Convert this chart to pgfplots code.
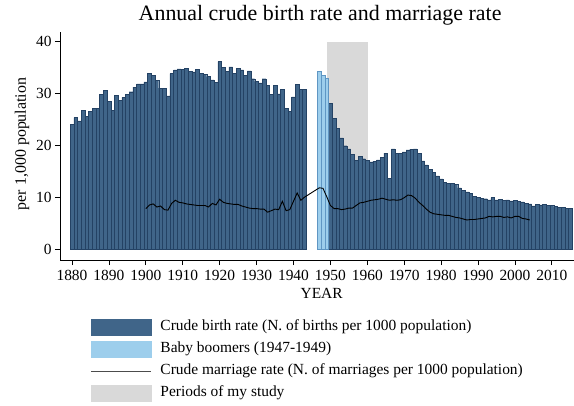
\documentclass[border=0pt]{standalone}
\usepackage{fontspec}
\setmainfont{Liberation Serif}
\usepackage{pgfplots}
\usepackage{pgfplotstable}
\pgfplotsset{compat=1.18}
\definecolor{barblue}{RGB}{64,101,137}
\definecolor{baredge}{RGB}{36,66,100}
\definecolor{boomblue}{RGB}{157,206,236}
\definecolor{boomedge}{RGB}{95,150,195}
\definecolor{studygray}{RGB}{217,217,217}

\pgfplotstableread{
year cbr
1880 24.1
1881 25.4
1882 24.8
1883 26.8
1884 25.7
1885 26.6
1886 27.2
1887 27.2
1888 29.9
1889 30.6
1890 28.6
1891 26.8
1892 29.7
1893 28.8
1894 29.3
1895 29.9
1896 30.4
1897 31.3
1898 31.9
1899 31.9
1900 32.3
1901 33.9
1902 33.5
1903 32.6
1904 31.1
1905 31.1
1906 29.6
1907 33.9
1908 34.6
1909 34.8
1910 34.7
1911 34.9
1912 34.3
1913 34.2
1914 34.7
1915 34.0
1916 33.7
1917 33.3
1918 32.7
1919 32.2
1920 36.2
1921 35.1
1922 34.3
1923 35.2
1924 33.9
1925 34.9
1926 34.6
1927 33.6
1928 34.4
1929 32.9
1930 32.4
1931 32.1
1932 32.9
1933 31.6
1934 29.9
1935 31.6
1936 30.0
1937 30.9
1938 27.2
1939 26.6
1940 29.4
1941 31.8
1942 30.9
1943 30.9
1950 28.1
1951 25.3
1952 23.4
1953 21.5
1954 20.0
1955 19.4
1956 18.4
1957 17.2
1958 18.0
1959 17.5
1960 17.2
1961 16.9
1962 17.0
1963 17.3
1964 17.7
1965 18.6
1966 13.7
1967 19.4
1968 18.6
1969 18.5
1970 18.8
1971 19.2
1972 19.3
1973 19.4
1974 18.6
1975 17.1
1976 16.3
1977 15.5
1978 14.9
1979 14.2
1980 13.6
1981 13.0
1982 12.8
1983 12.7
1984 12.5
1985 11.9
1986 11.4
1987 11.1
1988 10.8
1989 10.2
1990 10.0
1991 9.9
1992 9.8
1993 9.6
1994 10.0
1995 9.6
1996 9.7
1997 9.5
1998 9.6
1999 9.4
2000 9.5
2001 9.3
2002 9.2
2003 8.9
2004 8.8
2005 8.4
2006 8.7
2007 8.6
2008 8.7
2009 8.5
2010 8.5
2011 8.3
2012 8.2
2013 8.2
2014 8.0
2015 8.0
}\birth

\pgfplotstableread{
year cbr
1947 34.3
1948 33.5
1949 33.0
}\boom

\pgfplotstableread{
year cmr
1900 7.9
1901 8.6
1902 8.8
1903 8.2
1904 8.4
1905 7.7
1906 7.6
1907 8.9
1908 9.5
1909 9.1
1910 9.0
1911 8.8
1912 8.7
1913 8.6
1914 8.5
1915 8.5
1916 8.5
1917 8.2
1918 8.9
1919 8.6
1920 9.7
1921 9.1
1922 8.9
1923 8.8
1924 8.7
1925 8.7
1926 8.4
1927 8.2
1928 8.0
1929 7.9
1930 7.9
1931 7.8
1932 7.8
1933 7.2
1934 7.5
1935 7.8
1936 7.7
1937 9.3
1938 7.5
1939 7.7
1940 9.3
1941 10.9
1942 9.5
1943 10.1
1947 11.9
1948 11.8
1949 10.2
1950 8.5
1951 7.9
1952 7.9
1953 7.7
1954 7.8
1955 8.0
1956 8.0
1957 8.5
1958 9.0
1959 9.1
1960 9.3
1961 9.5
1962 9.6
1963 9.7
1964 9.9
1965 9.7
1966 9.5
1967 9.6
1968 9.5
1969 9.6
1970 10.0
1971 10.5
1972 10.4
1973 9.9
1974 9.1
1975 8.5
1976 7.8
1977 7.2
1978 6.9
1979 6.8
1980 6.7
1981 6.6
1982 6.6
1983 6.4
1984 6.2
1985 6.1
1986 5.9
1987 5.7
1988 5.8
1989 5.8
1990 5.9
1991 6.0
1992 6.1
1993 6.4
1994 6.3
1995 6.4
1996 6.4
1997 6.2
1998 6.3
1999 6.1
2000 6.4
2001 6.4
2002 6.0
2003 5.9
2004 5.7
}\marriage

\pgfplotstableread{
year top
1949 40
1960.3 40
}\study

\begin{document}
\begin{tikzpicture}
\useasboundingbox (0,0) rectangle (574bp,406bp);
\begin{axis}[
  at={(60bp,146bp)}, anchor=south west,
  scale only axis, width=514bp, height=228bp,
  xmin=1876.75, xmax=2016, ymin=-2, ymax=41.9,
  axis x line*=bottom, axis y line*=left,
  axis line style={line width=0.8bp, -},
  xtick={1880,1890,...,2010}, ytick={0,10,20,30,40},
  tick align=outside, major tick length=5bp,
  tick style={line width=0.8bp, black},
  /pgf/number format/1000 sep={},
  /pgf/number format/assume math mode=true,
  ticklabel style={font=\fontsize{15.5}{18}\selectfont},
  x tick label style={yshift=-2bp},
  title={Annual crude birth rate and marriage rate},
  title style={at={(axis description cs:0.506,1)}, anchor=base, yshift=6bp, font=\fontsize{22}{26}\selectfont},
  xlabel={YEAR},
  xlabel style={at={(axis description cs:0.509,-0.1667)}, anchor=base, font=\fontsize{15.5}{18}\selectfont},
  ylabel={per 1,000 population},
  ylabel style={at={(axis description cs:-0.0739,0.509)}, anchor=center, rotate=0, font=\fontsize{16}{19}\selectfont},
  legend style={at={(axis description cs:0.0603,-0.259)}, anchor=north west, draw=none, fill=none,
    inner sep=0pt, outer sep=0pt, row sep=6.5bp,
    font=\fontsize{15.5}{18}\selectfont,
    nodes={inner sep=0pt, text height=11bp, text depth=4bp},
    /tikz/every odd column/.append style={column sep=8.5bp}},
  legend cell align=left,
]
\addplot[fill=studygray, draw=none, forget plot] table[x=year,y=top]{\study} \closedcycle;
\addplot[ybar, bar width=1, bar shift=0pt, fill=barblue, draw=baredge, line width=0.4bp, forget plot] table[x=year,y=cbr]{\birth};
\addplot[ybar, bar width=1, bar shift=0pt, fill=boomblue, draw=boomedge, line width=0.4bp, forget plot] table[x=year,y=cbr]{\boom};
\addplot[black, line width=0.9bp, mark=none, forget plot] table[x=year,y=cmr]{\marriage};

\addlegendimage{legend image code/.code={\fill[barblue] (0bp,-7.75bp) rectangle (60bp,7.75bp);}}
\addlegendentry{Crude birth rate (N. of births per 1000 population)}
\addlegendimage{legend image code/.code={\fill[boomblue] (0bp,-7.75bp) rectangle (60bp,7.75bp);}}
\addlegendentry{Baby boomers (1947-1949)}
\addlegendimage{legend image code/.code={\draw[black!70, line width=1bp] (0bp,0bp) -- (60bp,0bp);}}
\addlegendentry{Crude marriage rate (N. of marriages per 1000 population)}
\addlegendimage{legend image code/.code={\fill[studygray] (0bp,-7.75bp) rectangle (60bp,7.75bp);}}
\addlegendentry{Periods of my study}
\end{axis}
\end{tikzpicture}
\end{document}
